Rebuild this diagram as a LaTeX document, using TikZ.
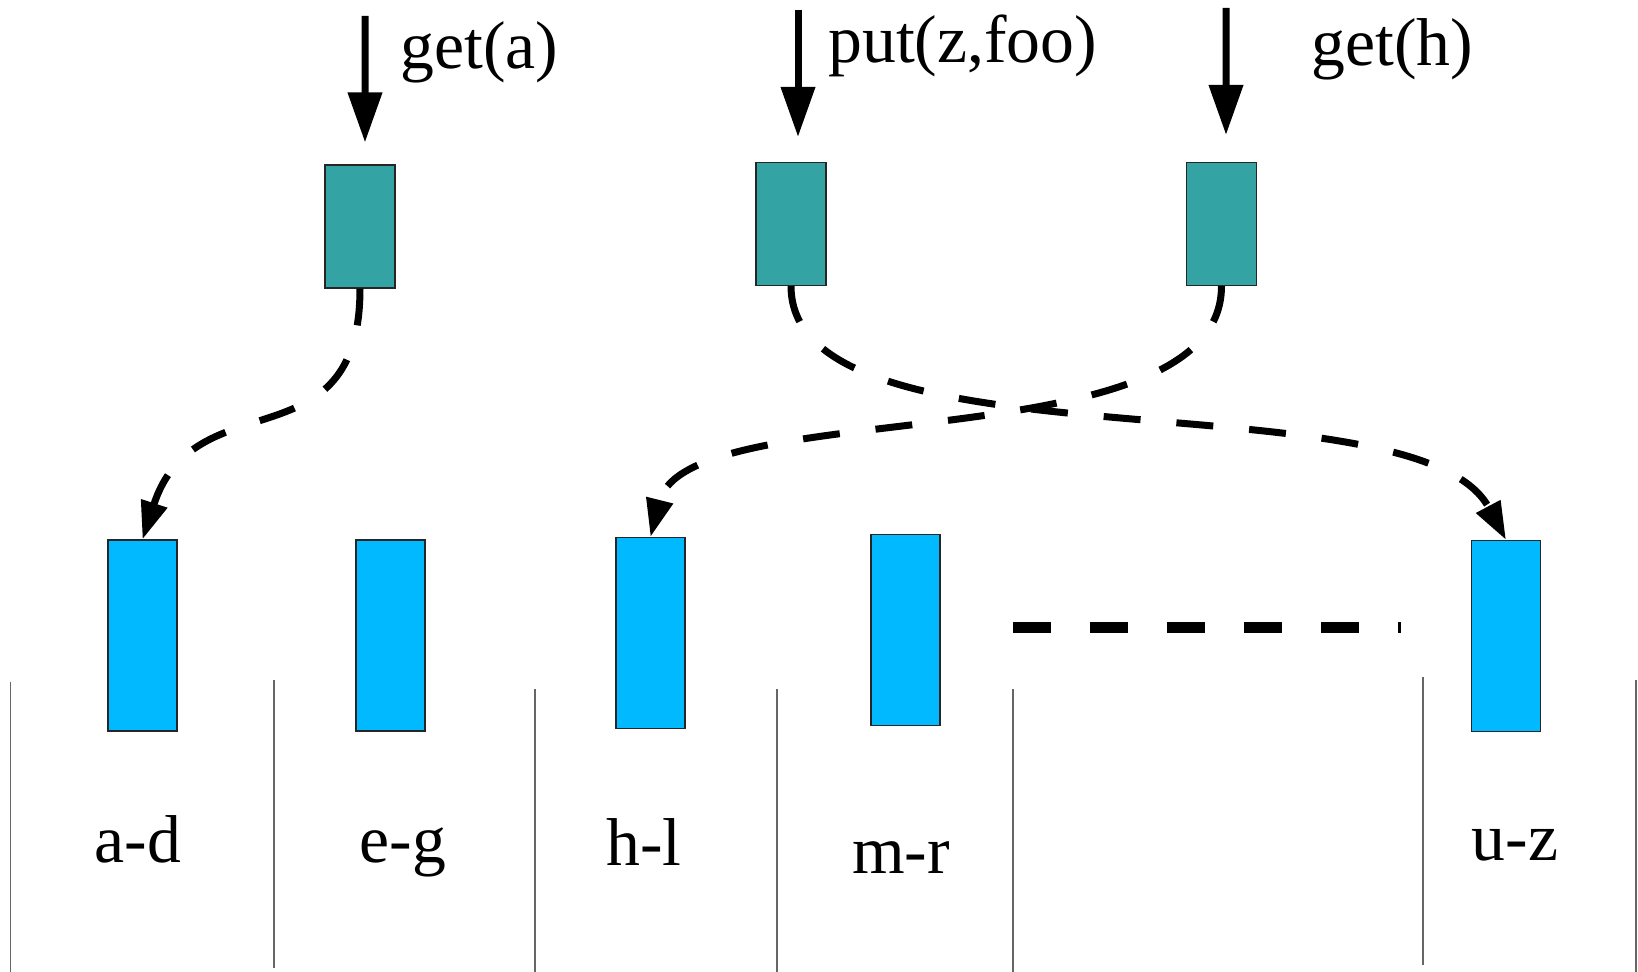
\documentclass[tikz,border=0pt]{standalone}
\usepackage{fontspec}
\setmainfont{Liberation Serif}
\usetikzlibrary{arrows.meta}
\definecolor{tealbox}{RGB}{51,163,163}
\definecolor{bluebox}{RGB}{0,185,255}

\begin{document}
\begin{tikzpicture}[client/.style={rectangle,draw=black!85,line width=0.6pt,fill=tealbox,minimum width=1.4cm,minimum height=2.46cm,inner sep=0pt},
  shard/.style={rectangle,draw=black!85,line width=0.6pt,fill=bluebox,minimum width=1.38cm,minimum height=3.82cm,inner sep=0pt},
  lbl/.style={font=\fontsize{38.5}{40}\selectfont,inner sep=0pt},
  req/.style={line width=0.14cm,-{Triangle[length=1cm,width=0.66cm]}},
  route/.style={line width=0.14cm,dash pattern=on 0.74cm off 0.72cm,-{Triangle[length=0.76cm,width=0.52cm]}}]
\useasboundingbox (0,0) rectangle (32.76,-19.44);
  % clients
  \node[client] (qa) at (7.2,-4.53) {};
  \node[client] (qput) at (15.82,-4.48) {};
  \node[client] (qh) at (24.43,-4.48) {};
  % key ranges
  \node[shard] (sad) at (2.85,-12.71) {};
  \node[shard] (seg) at (7.81,-12.71) {};
  \node[shard] (shl) at (13.01,-12.66) {};
  \node[shard] (smr) at (18.11,-12.60) {};
  \node[shard] (suz) at (30.12,-12.72) {};
  %\draw[help lines] (0,0) grid (33,-20);
\coordinate (ra) at (7.30,-0.32);
\coordinate (rput) at (15.96,-0.20);
\coordinate (rh) at (24.52,-0.16);
  \draw[req] (ra) -- ([xshift=1mm,yshift=4.4mm]qa.north);
  \draw[req] (rput) -- ([xshift=1.4mm,yshift=5mm]qput.north);
  \draw[req] (rh) -- ([xshift=0.9mm,yshift=5.4mm]qh.north);
\node[lbl,anchor=base west] (tga) at (8.00,-1.38) {get(a)};
\node[lbl,anchor=base west] (tput) at (16.56,-1.26) {put(z,foo)};
\node[lbl,anchor=base west] (tgh) at (26.22,-1.32) {get(h)};
  % lookups
  \draw[route] (qa.south) to[out=-90,in=72,out distance=3.6cm,in distance=3.4cm] (sad.north);
  \draw[route] (qput.south) to[out=-90,in=118,out distance=3.8cm,in distance=3.8cm] (suz.north);
  \draw[route] (qh.south) to[out=-90,in=76,out distance=3.6cm,in distance=3cm] (shl.north);
\coordinate (gl) at (20.26,-12.56);
\coordinate (gr) at (28.02,-12.56);
  \draw[line width=0.22cm,dash pattern=on 0.76cm off 0.78cm] (gl) -- (gr);
  % separators
  \foreach \x/\t/\b in {0.21/13.64/19.44,5.48/13.60/19.36,10.70/13.78/19.44,15.54/13.78/19.44,20.26/13.78/19.44,28.46/13.54/19.30,32.72/13.60/19.44}
    \draw[black!60,line width=0.85pt] (\x,-\t) -- (\x,-\b);
\path
(2.76,-17.24) node[lbl,anchor=base] (tad) {a-d}
(8.06,-17.24) node[lbl,anchor=base] (teg) {e-g}
(12.88,-17.30) node[lbl,anchor=base] (thl) {h-l}
(18.02,-17.46) node[lbl,anchor=base] (tmr) {m-r}
(30.30,-17.20) node[lbl,anchor=base] (tuz) {u-z}
;
\end{tikzpicture}
\end{document}
